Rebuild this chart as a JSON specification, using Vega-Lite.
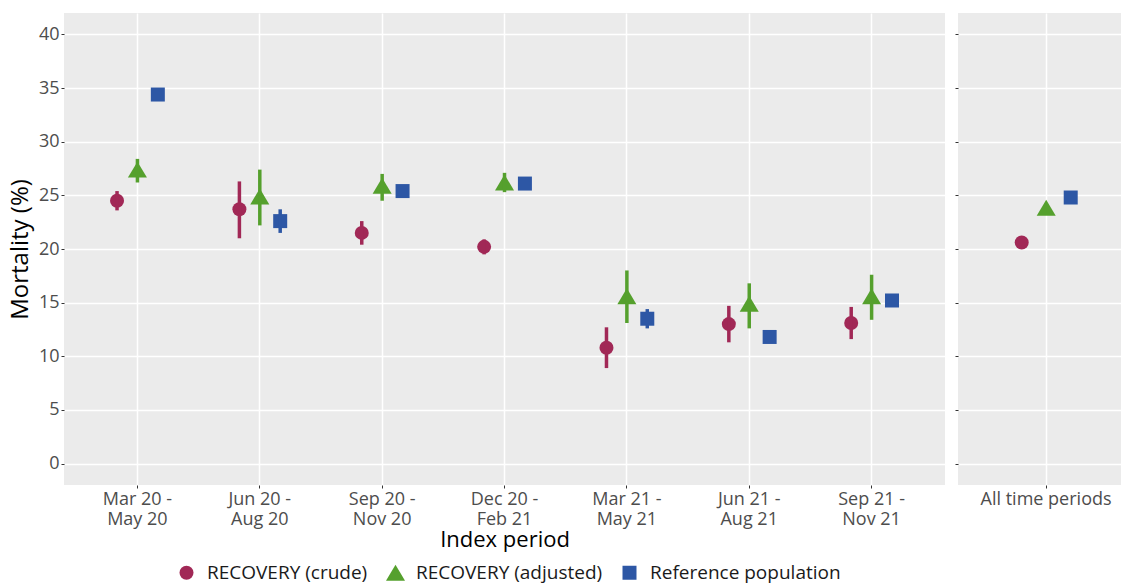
{
  "$schema": "https://vega.github.io/schema/vega-lite/v6.json",
  "padding": {"left": 8, "top": 13, "right": 0, "bottom": 0},
  "autosize": {"type": "pad"},
  "background": "white",
  "config": {
    "font": "Open Sans",
    "view": {"fill": "#EBEBEB", "stroke": null},
    "axis": {
      "domain": false,
      "grid": true,
      "gridColor": "#FFFFFF",
      "gridWidth": 1.5,
      "tickColor": "#333333",
      "tickSize": 3,
      "tickWidth": 1,
      "labelColor": "#4D4D4D",
      "labelFontSize": 18,
      "labelPadding": 2,
      "titleColor": "#000000",
      "titleFontWeight": "normal",
      "titleFontSize": 23
    },
    "legend": {
      "labelFontSize": 19,
      "labelColor": "#1A1A1A",
      "labelLimit": 0,
      "symbolSize": 196,
      "symbolStrokeWidth": 0,
      "labelOffset": 11,
      "columnPadding": 17
    }
  },
  "datasets": {
    "d": [
      {"panel": "period", "period": "Mar 20 - May 20", "series": "RECOVERY (crude)", "value": 24.5, "lo": 23.6, "hi": 25.4},
      {"panel": "period", "period": "Mar 20 - May 20", "series": "RECOVERY (adjusted)", "value": 27.4, "lo": 26.2, "hi": 28.4},
      {"panel": "period", "period": "Mar 20 - May 20", "series": "Reference population", "value": 34.4, "lo": null, "hi": null},
      {"panel": "period", "period": "Jun 20 - Aug 20", "series": "RECOVERY (crude)", "value": 23.7, "lo": 21.0, "hi": 26.3},
      {"panel": "period", "period": "Jun 20 - Aug 20", "series": "RECOVERY (adjusted)", "value": 24.9, "lo": 22.2, "hi": 27.4},
      {"panel": "period", "period": "Jun 20 - Aug 20", "series": "Reference population", "value": 22.6, "lo": 21.5, "hi": 23.7},
      {"panel": "period", "period": "Sep 20 - Nov 20", "series": "RECOVERY (crude)", "value": 21.5, "lo": 20.4, "hi": 22.6},
      {"panel": "period", "period": "Sep 20 - Nov 20", "series": "RECOVERY (adjusted)", "value": 25.9, "lo": 24.5, "hi": 27.0},
      {"panel": "period", "period": "Sep 20 - Nov 20", "series": "Reference population", "value": 25.4, "lo": null, "hi": null},
      {"panel": "period", "period": "Dec 20 - Feb 21", "series": "RECOVERY (crude)", "value": 20.2, "lo": 19.5, "hi": 20.9},
      {"panel": "period", "period": "Dec 20 - Feb 21", "series": "RECOVERY (adjusted)", "value": 26.2, "lo": 25.3, "hi": 27.1},
      {"panel": "period", "period": "Dec 20 - Feb 21", "series": "Reference population", "value": 26.1, "lo": null, "hi": null},
      {"panel": "period", "period": "Mar 21 - May 21", "series": "RECOVERY (crude)", "value": 10.8, "lo": 8.9, "hi": 12.7},
      {"panel": "period", "period": "Mar 21 - May 21", "series": "RECOVERY (adjusted)", "value": 15.6, "lo": 13.1, "hi": 18.0},
      {"panel": "period", "period": "Mar 21 - May 21", "series": "Reference population", "value": 13.5, "lo": 12.6, "hi": 14.4},
      {"panel": "period", "period": "Jun 21 - Aug 21", "series": "RECOVERY (crude)", "value": 13.0, "lo": 11.3, "hi": 14.7},
      {"panel": "period", "period": "Jun 21 - Aug 21", "series": "RECOVERY (adjusted)", "value": 14.9, "lo": 12.6, "hi": 16.8},
      {"panel": "period", "period": "Jun 21 - Aug 21", "series": "Reference population", "value": 11.8, "lo": null, "hi": null},
      {"panel": "period", "period": "Sep 21 - Nov 21", "series": "RECOVERY (crude)", "value": 13.1, "lo": 11.6, "hi": 14.6},
      {"panel": "period", "period": "Sep 21 - Nov 21", "series": "RECOVERY (adjusted)", "value": 15.6, "lo": 13.4, "hi": 17.6},
      {"panel": "period", "period": "Sep 21 - Nov 21", "series": "Reference population", "value": 15.2, "lo": null, "hi": null},
      {"panel": "all", "period": "All time periods", "series": "RECOVERY (crude)", "value": 20.6, "lo": null, "hi": null},
      {"panel": "all", "period": "All time periods", "series": "RECOVERY (adjusted)", "value": 23.85, "lo": null, "hi": null},
      {"panel": "all", "period": "All time periods", "series": "Reference population", "value": 24.8, "lo": null, "hi": null}
    ]
  },
  "spacing": 9,
  "resolve": {"scale": {"x": "independent", "xOffset": "independent"}},
  "hconcat": [
    {
      "width": 881,
      "height": 472,
      "data": {"name": "d"},
      "transform": [{"filter": "datum.panel == 'period'"}],
      "encoding": {
        "x": {
          "field": "period", "type": "nominal", "sort": null,
          "scale": {"type": "band", "paddingInner": 0, "paddingOuter": 0.1},
          "axis": {
            "title": "Index period", "titleFontSize": 22, "titlePadding": 1,
            "labelAngle": 0, "labelLineHeight": 20, "bandPosition": 0.5,
            "labelExpr": "[substring(datum.label, 0, 8), substring(datum.label, 9)]"
          }
        },
        "xOffset": {
          "field": "series", "type": "nominal",
          "sort": ["RECOVERY (crude)", "RECOVERY (adjusted)", "Reference population"],
          "scale": {"type": "point", "padding": 0, "range": [40.8, 81.6]}
        },
        "color": {
          "field": "series", "type": "nominal",
          "scale": {"domain": ["RECOVERY (crude)", "RECOVERY (adjusted)", "Reference population"], "range": ["#A12856", "#55A02D", "#2D57A5"]},
          "legend": {"title": null, "orient": "none", "direction": "horizontal", "legendX": 113, "legendY": 550}
        }
      },
      "layer": [
        {
          "mark": {"type": "point", "filled": true, "opacity": 1, "size": 196},
          "encoding": {
            "y": {
              "field": "value", "type": "quantitative",
              "scale": {"domain": [-2, 42], "nice": false, "zero": false},
              "axis": {"title": "Mortality (%)", "titleFontSize": 24, "titlePadding": 6, "values": [0, 5, 10, 15, 20, 25, 30, 35, 40]}
            },
            "shape": {
              "field": "series", "type": "nominal",
              "scale": {"domain": ["RECOVERY (crude)", "RECOVERY (adjusted)", "Reference population"], "range": ["circle", "M0,-1.14L1.36,1.14L-1.36,1.14Z", "square"]},
              "legend": {"title": null, "orient": "none", "direction": "horizontal", "legendX": 113, "legendY": 550}
            }
          }
        },
        {
          "transform": [{"filter": "datum.lo != null"}],
          "mark": {"type": "rule", "strokeWidth": 3.5},
          "encoding": {
            "y": {
              "field": "lo", "type": "quantitative",
              "scale": {"domain": [-2, 42], "nice": false, "zero": false},
              "axis": {"title": "Mortality (%)", "titleFontSize": 24, "titlePadding": 6, "values": [0, 5, 10, 15, 20, 25, 30, 35, 40]}
            },
            "y2": {"field": "hi"}
          }
        }
      ]
    },
    {
      "width": 164,
      "height": 472,
      "data": {"name": "d"},
      "transform": [{"filter": "datum.panel == 'all'"}],
      "mark": {"type": "point", "filled": true, "opacity": 1, "size": 196},
      "encoding": {
        "x": {
          "field": "period", "type": "nominal", "sort": null,
          "scale": {"type": "band", "paddingInner": 0, "paddingOuter": 0.059, "align": 0.85},
          "axis": {"title": null, "labelAngle": 0, "bandPosition": 0.5}
        },
        "xOffset": {
          "field": "series", "type": "nominal",
          "sort": ["RECOVERY (crude)", "RECOVERY (adjusted)", "Reference population"],
          "scale": {"type": "point", "padding": 0, "range": [49, 98]}
        },
        "y": {
          "field": "value", "type": "quantitative",
          "scale": {"domain": [-2, 42], "nice": false, "zero": false},
          "axis": {"title": null, "labels": false, "values": [0, 5, 10, 15, 20, 25, 30, 35, 40]}
        },
        "color": {
          "field": "series", "type": "nominal",
          "scale": {"domain": ["RECOVERY (crude)", "RECOVERY (adjusted)", "Reference population"], "range": ["#A12856", "#55A02D", "#2D57A5"]},
          "legend": {"title": null, "orient": "none", "direction": "horizontal", "legendX": 113, "legendY": 550}
        },
        "shape": {
          "field": "series", "type": "nominal",
          "scale": {"domain": ["RECOVERY (crude)", "RECOVERY (adjusted)", "Reference population"], "range": ["circle", "M0,-1.14L1.36,1.14L-1.36,1.14Z", "square"]},
          "legend": {"title": null, "orient": "none", "direction": "horizontal", "legendX": 113, "legendY": 550}
        }
      }
    }
  ]
}
